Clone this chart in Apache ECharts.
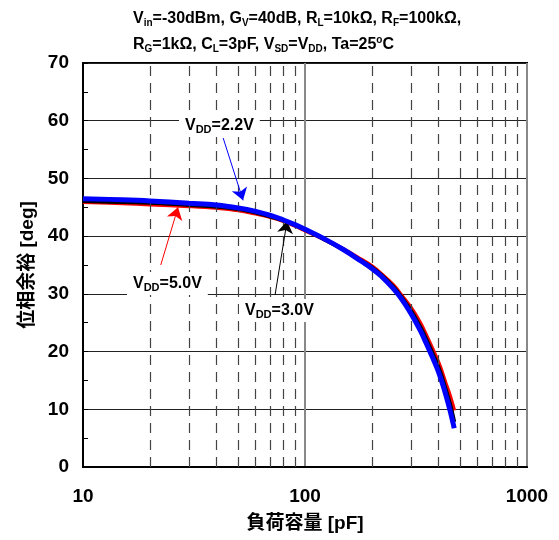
<!DOCTYPE html>
<html>
<head>
<meta charset="utf-8">
<script src="https://cdn.jsdelivr.net/npm/echarts@6/dist/echarts.min.js"></script>
<style>html,body{margin:0;padding:0;background:#fff;}#c{width:559px;height:540px;}</style>
</head>
<body>
<div id="c"></div>
<script>
// Load capacitance [pF]
const capacitance = [10, 15, 20, 30, 40, 50, 60, 70, 80, 90, 100, 120, 150, 180, 200, 220, 250, 270, 300, 330, 350, 400, 430, 450, 470];
// Phase margin [deg]
const vdd50 = [45.9, 45.7, 45.5, 45.2, 44.9, 44.5, 43.9, 43.3, 42.6, 41.8, 41.0, 39.6, 37.7, 35.9, 34.8, 33.5, 31.5, 29.9, 27.6, 25.0, 23.0, 18.0, 14.5, 12.3, 9.8];
const vdd30 = [46.1, 45.9, 45.8, 45.4, 45.1, 44.7, 44.1, 43.4, 42.7, 41.9, 41.1, 39.6, 37.6, 35.7, 34.6, 33.3, 31.2, 29.6, 27.1, 24.3, 22.3, 17.2, 13.5, 10.9, 7.8];
const vdd22 = [46.5, 46.3, 46.1, 45.7, 45.4, 44.9, 44.3, 43.6, 42.8, 42.0, 41.2, 39.7, 37.6, 35.6, 34.4, 33.1, 30.9, 29.3, 26.6, 23.7, 21.6, 16.4, 12.6, 9.8, 6.7];
// Axis ticks
const xTicks = [10, 100, 1000];
const yTicks = [0, 10, 20, 30, 40, 50, 60, 70];
const minorGrid = [20, 30, 40, 50, 60, 70, 80, 90, 200, 300, 400, 500, 600, 700, 800, 900];

const FF = '"Liberation Sans", Arial, "Noto Sans CJK JP", sans-serif';
const zip = (xs, ys) => xs.map((x, i) => [x, ys[i]]);

function richLabel(sizeMain, sizeSub) {
  return {
    v: { fontSize: sizeMain, fontWeight: 'bold', fontFamily: FF, color: '#000', lineHeight: sizeMain + 3 },
    s: { fontSize: sizeSub, fontWeight: 'bold', fontFamily: FF, color: '#000', lineHeight: 8, verticalAlign: 'bottom' },
    u: { fontSize: sizeSub, fontWeight: 'bold', fontFamily: FF, color: '#000', lineHeight: 8, verticalAlign: 'top' }
  };
}

function arrow(from, to, color) {
  return {
    silent: true, animation: false, symbol: ['none', 'arrow'], symbolSize: 12, label: { show: false },
    lineStyle: { color: color, width: 1, type: 'solid' },
    itemStyle: { color: color },
    data: [[{ coord: from }, { coord: to }]]
  };
}

const chart = echarts.init(document.getElementById('c'), null, { renderer: 'canvas' });
chart.setOption({
  animation: false,
  backgroundColor: '#fff',
  grid: { left: 83, right: 32, top: 63, bottom: 73, show: true, borderColor: '#000', borderWidth: 2, backgroundColor: 'transparent' },
  xAxis: {
    type: 'log', logBase: 10, min: xTicks[0], max: xTicks[xTicks.length - 1],
    name: '負荷容量 [pF]', nameLocation: 'middle', nameGap: 47,
    nameTextStyle: { fontSize: 19, fontWeight: 'bold', fontFamily: FF, color: '#000' },
    axisLine: { show: true, lineStyle: { color: '#000', width: 2 } },
    axisTick: { show: false },
    axisLabel: { fontSize: 19, fontWeight: 'bold', fontFamily: FF, color: '#000', margin: 20, formatter: v => String(v) },
    splitLine: { show: true, lineStyle: { color: '#888', width: 2 } }
  },
  yAxis: {
    type: 'value', min: yTicks[0], max: yTicks[yTicks.length - 1], interval: 10,
    name: '位相余裕 [deg]', nameLocation: 'middle', nameGap: 45, nameRotate: 90,
    nameTextStyle: { fontSize: 19, fontWeight: 'bold', fontFamily: FF, color: '#000' },
    axisLine: { show: true, lineStyle: { color: '#000', width: 2 } },
    axisTick: { show: true, inside: true, length: 5, lineStyle: { color: '#000' } },
    minorTick: { show: true, splitNumber: 2, length: 5, lineStyle: { color: '#000' } },
    axisLabel: { fontSize: 19, fontWeight: 'bold', fontFamily: FF, color: '#000', margin: 14 },
    splitLine: { show: true, lineStyle: { color: '#222', width: 1 } }
  },
  series: [
    {
      type: 'line', data: [], z: 2,
      markLine: {
        silent: true, symbol: 'none', animation: false, label: { show: false },
        lineStyle: { color: '#444', width: 1.2, type: [10, 7] },
        data: minorGrid.map(v => ({ xAxis: v }))
      }
    },
    {
      name: 'VDD=5.0V', type: 'line', data: zip(capacitance, vdd50), smooth: 0.4, showSymbol: false, z: 3,
      lineStyle: { color: '#ff0000', width: 4 }, itemStyle: { color: '#ff0000' },
      markLine: arrow([22.4, 35.0], [26.8, 45.0], '#ff0000')
    },
    {
      name: 'VDD=3.0V', type: 'line', data: zip(capacitance, vdd30), smooth: 0.4, showSymbol: false, z: 4,
      lineStyle: { color: '#000000', width: 4 }, itemStyle: { color: '#000000' },
      markLine: arrow([73.3, 29.8], [83.0, 42.6], '#000000')
    },
    {
      name: 'VDD=2.2V', type: 'line', data: zip(capacitance, vdd22), smooth: 0.4, showSymbol: false, z: 5,
      lineStyle: { color: '#0000ff', width: 5 }, itemStyle: { color: '#0000ff' },
      markLine: arrow([42.8, 57.0], [52.6, 46.2], '#0000ff')
    }
  ],
  graphic: [
    { type: 'text', left: 133, top: 11, z: 10,
      style: { text: '{v|V}{s|in}{v|=-30dBm, G}{s|V}{v|=40dB, R}{s|L}{v|=10kΩ, R}{s|F}{v|=100kΩ,}', rich: richLabel(16, 10) } },
    { type: 'text', left: 133, top: 35, z: 10,
      style: { text: '{v|R}{s|G}{v|=1kΩ, C}{s|L}{v|=3pF, V}{s|SD}{v|=V}{s|DD}{v|, Ta=25}{u|o}{v|C}', rich: richLabel(16, 10) } },
    { type: 'text', left: 179, top: 114, z: 10,
      style: { text: '{v|V}{s|DD}{v|=2.2V}', rich: richLabel(16, 11), backgroundColor: '#fff', padding: [2, 6, 2, 6] } },
    { type: 'text', left: 127, top: 272, z: 10,
      style: { text: '{v|V}{s|DD}{v|=5.0V}', rich: richLabel(16, 11), backgroundColor: '#fff', padding: [2, 6, 2, 6] } },
    { type: 'text', left: 239, top: 299, z: 10,
      style: { text: '{v|V}{s|DD}{v|=3.0V}', rich: richLabel(16, 11), backgroundColor: '#fff', padding: [2, 6, 2, 6] } }
  ]
});
</script>
</body>
</html>
